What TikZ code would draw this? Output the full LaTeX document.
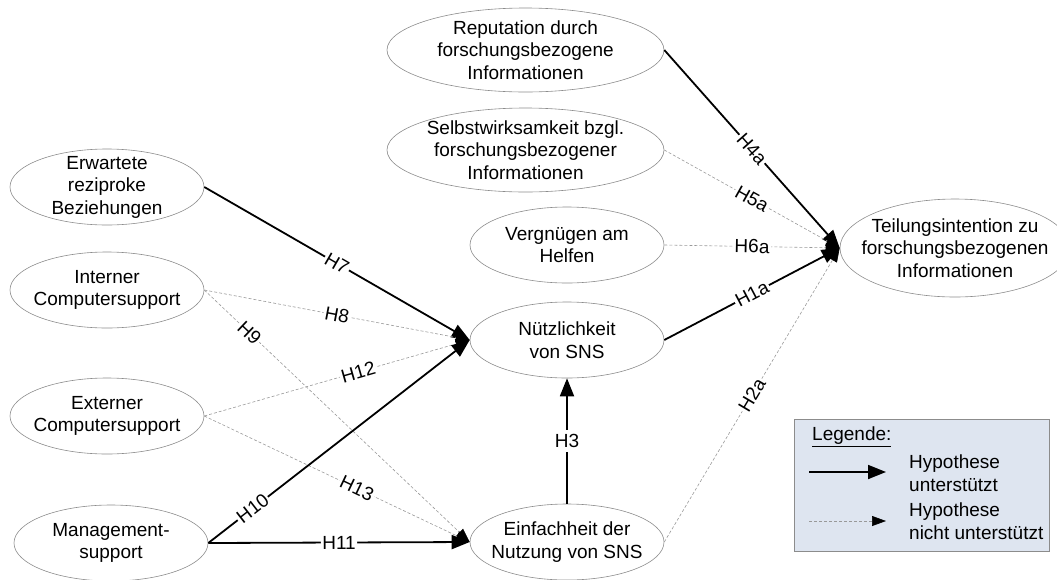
\documentclass[tikz,border=0pt]{standalone}
\usepackage{fontspec}
\setmainfont{Liberation Sans}
\usetikzlibrary{shapes.geometric,arrows.meta}
\definecolor{legendfill}{HTML}{DEE5F0}
\definecolor{rimgray}{HTML}{8C8C8C}
\definecolor{dashgray}{HTML}{999999}

\begin{document}
\begin{tikzpicture}[x=1pt,y=-1pt,
  every node/.style={font=\fontsize{19}{22.5}\selectfont},
  factor/.style={ellipse, draw=rimgray, line width=0.6pt, inner sep=0pt,
                 minimum width=194pt, minimum height=76pt},
  caption/.style={align=center, inner sep=0pt},
  supp/.style={line width=1.8pt, -{Triangle[length=18pt,width=14pt]}},
  nsupp/.style={line width=0.6pt, draw=dashgray, dash pattern=on 3pt off 2pt,
                -{Triangle[length=14pt,width=10pt,color=black]}},
  hyp/.style={fill=white, inner sep=1.5pt, sloped}
]
\useasboundingbox (0,0) rectangle (1057,579);

% constructs
\node[factor, minimum width=277pt, minimum height=84pt] (rep) at (525.5,50) {};
\node[caption] (rep-t) at (rep) {Reputation durch\\forschungsbezogene\\Informationen};
\node[factor, minimum width=277pt, minimum height=84pt] (self) at (525.5,150) {};
\node[caption] (self-t) at (self) {Selbstwirksamkeit bzgl.\\forschungsbezogener\\Informationen};
\node[factor] (fun) at (567,245) {};
\node[caption] (fun-t) at (fun) {Vergnügen am\\Helfen};
\node[factor] (use) at (567,340) {};
\node[caption] (use-t) at (use) {Nützlichkeit\\von SNS};
\node[factor] (ease) at (567,542) {};
\node[caption] (ease-t) at (ease) {Einfachheit der\\Nutzung von SNS};
\node[factor, minimum width=230pt, minimum height=98pt] (share) at (955,248) {};
\node[caption] (share-t) at (share) {Teilungsintention zu\\forschungsbezogenen\\Informationen};

\node[factor] (recip) at (107,187) {};
\node[caption] (recip-t) at (recip) {Erwartete\\reziproke\\Beziehungen};
\node[factor] (intern) at (107,290) {};
\node[caption] (intern-t) at (intern) {Interner\\Computersupport};
\node[factor] (extern) at (107,416) {};
\node[caption] (extern-t) at (extern) {Externer\\Computersupport};
\node[factor] (mgmt) at (111,543) {};
\node[caption] (mgmt-t) at (mgmt) {Management-\\support};

% hypotheses
\draw[supp]  (rep.east)  -- node[hyp] {H4a} (share.west);
\draw[nsupp] (self.east) -- node[hyp] {H5a} (share.west);
\draw[nsupp] (fun.east)  -- node[hyp] {H6a} (share.west);
\draw[supp]  (use.east)  -- node[hyp] {H1a} (share.west);
\draw[nsupp] (ease.east) -- node[hyp] {H2a} (share.west);

\draw[supp]  (recip.east)  -- node[hyp] {H7} (use.west);
\draw[nsupp] (intern.east) -- node[hyp] {H8} (use.west);
\draw[nsupp] (intern.east) -- node[hyp, pos=0.17] {H9} (ease.west);
\draw[nsupp] (extern.east) -- node[hyp, pos=0.58] {H12} (use.west);
\draw[nsupp] (extern.east) -- node[hyp, pos=0.575] {H13} (ease.west);
\draw[supp]  (mgmt.east) -- node[hyp, pos=0.17] {H10} (use.west);
\draw[supp]  (mgmt.east) -- node[hyp] {H11} (ease.west);
\draw[supp]  (ease.north) -- node[fill=white, inner sep=4pt] {H3} (use.south);

% legend
\node[draw=rimgray, line width=0.8pt, fill=legendfill, inner sep=0pt,
      minimum width=255pt, minimum height=132pt, anchor=north west] (legbox) at (794,419) {};
\node[anchor=west, inner sep=0pt] (legtitle) at (812,437) {\underline{Legende:}};
\coordinate (ls1) at (809,472);
\coordinate (le1) at (886,472);
\coordinate (ls2) at (809,521);
\coordinate (le2) at (886,521);
\draw[supp]  (ls1) -- (le1);
\draw[nsupp] (ls2) -- (le2);
\node[anchor=west, align=left, inner sep=0pt] (leg1) at (909,473) {Hypothese\\unterstützt};
\node[anchor=west, align=left, inner sep=0pt] (leg2) at (909,521) {Hypothese\\nicht unterstützt};
\end{tikzpicture}
\end{document}
